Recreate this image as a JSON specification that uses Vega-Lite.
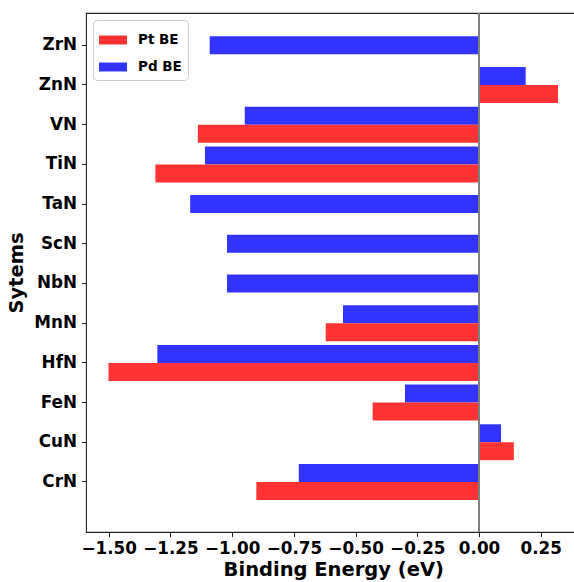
{
  "$schema": "https://vega.github.io/schema/vega-lite/v6.json",
  "autosize": {"type": "none"},
  "padding": {"left": 86, "top": 13, "right": 0, "bottom": 50},
  "width": 494.5,
  "height": 519,
  "background": "white",
  "config": {
    "font": "DejaVu Sans",
    "view": {"stroke": "#222", "strokeWidth": 1.1},
    "axis": {"grid": false, "domain": false, "tickColor": "#222", "tickSize": 4.5, "tickWidth": 1,
             "labelFont": "DejaVu Sans", "labelFontWeight": "bold", "labelFontSize": 16.8, "labelColor": "black",
             "titleFont": "DejaVu Sans", "titleFontWeight": "bold", "titleFontSize": 19.5, "titleColor": "black"}
  },
  "data": {"values": [
    {"system": "ZrN", "series": "Pd BE", "value": -1.091},
    {"system": "ZnN", "series": "Pd BE", "value": 0.189},
    {"system": "ZnN", "series": "Pt BE", "value": 0.32},
    {"system": "VN", "series": "Pd BE", "value": -0.949},
    {"system": "VN", "series": "Pt BE", "value": -1.139},
    {"system": "TiN", "series": "Pd BE", "value": -1.11},
    {"system": "TiN", "series": "Pt BE", "value": -1.311},
    {"system": "TaN", "series": "Pd BE", "value": -1.17},
    {"system": "ScN", "series": "Pd BE", "value": -1.021},
    {"system": "NbN", "series": "Pd BE", "value": -1.021},
    {"system": "MnN", "series": "Pd BE", "value": -0.551},
    {"system": "MnN", "series": "Pt BE", "value": -0.621},
    {"system": "HfN", "series": "Pd BE", "value": -1.303},
    {"system": "HfN", "series": "Pt BE", "value": -1.501},
    {"system": "FeN", "series": "Pd BE", "value": -0.3},
    {"system": "FeN", "series": "Pt BE", "value": -0.431},
    {"system": "CuN", "series": "Pd BE", "value": 0.089},
    {"system": "CuN", "series": "Pt BE", "value": 0.141},
    {"system": "CrN", "series": "Pd BE", "value": -0.73},
    {"system": "CrN", "series": "Pt BE", "value": -0.902}
  ]},
  "transform": [
    {"joinaggregate": [{"op": "count", "as": "n"}], "groupby": ["system"]}
  ],
  "encoding": {
    "y": {"field": "system", "type": "nominal",
          "sort": ["ZrN","ZnN","VN","TiN","TaN","ScN","NbN","MnN","HfN","FeN","CuN","CrN"],
          "scale": {"paddingInner": 0, "paddingOuter": 0.5365, "align": 0.292},
          "axis": {"title": "Sytems", "labelPadding": 5, "titlePadding": 7}},
    "x": {"field": "value", "type": "quantitative",
          "scale": {"domain": [-1.592, 0.411], "nice": false, "zero": false},
          "axis": {"title": "Binding Energy (eV)", "values": [-1.5,-1.25,-1,-0.75,-0.5,-0.25,0,0.25],
                   "format": ".2f", "labelPadding": 4, "titlePadding": 3}},
    "color": {"field": "series", "type": "nominal",
              "scale": {"domain": ["Pt BE", "Pd BE"], "range": ["#ff3333", "#3333ff"]},
              "legend": {"title": null, "orient": "none", "legendX": 7, "legendY": 7,
                         "symbolType": "M-1,-0.32H1V0.32H-1Z", "symbolSize": 784, "symbolStrokeWidth": 0, "symbolOpacity": 1,
                         "labelFont": "DejaVu Sans", "labelFontWeight": "bold", "labelFontSize": 13.5, "labelColor": "black",
                         "labelOffset": 11, "rowPadding": 6, "padding": 6,
                         "strokeColor": "#cccccc", "fillColor": "white", "cornerRadius": 4}}
  },
  "layer": [
    {"transform": [{"filter": "datum.n == 2"}],
     "mark": {"type": "bar", "opacity": 1},
     "encoding": {"yOffset": {"field": "series", "type": "nominal",
                              "scale": {"domain": ["Pd BE", "Pt BE"], "paddingInner": 0, "paddingOuter": 0.103}}}},
    {"transform": [{"filter": "datum.n == 1"}],
     "mark": {"type": "bar", "opacity": 1, "height": {"band": 0.4534}}},
    {"mark": {"type": "rule", "color": "#808080", "strokeWidth": 1.6},
     "encoding": {"x": {"datum": 0}, "y": null, "color": null}}
  ]
}
